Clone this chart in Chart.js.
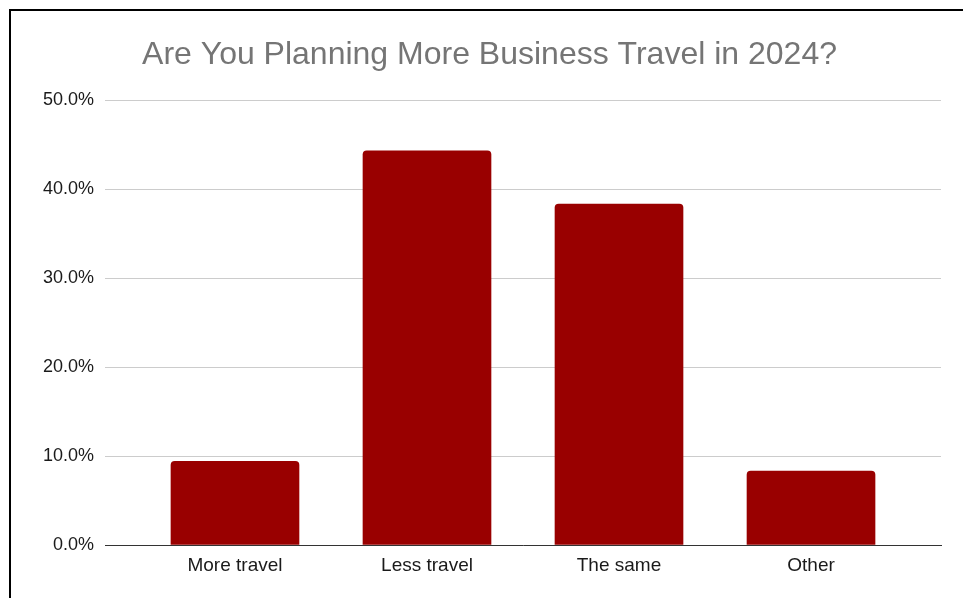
<!DOCTYPE html>
<html>
<head>
<meta charset="utf-8">
<script src="https://cdn.jsdelivr.net/npm/chart.js@4/dist/chart.umd.min.js"></script>
<style>
    body { margin: 0; background: #fff; }
    #frame {
        position: absolute; left: 9px; top: 9px; right: 0; bottom: 0;
        border-left: 2px solid #000; border-top: 2px solid #000;
    }
    #myChart { position: absolute; left: 0; top: 0; }
</style>
</head>
<body>
<div id="frame"></div>
<canvas id="myChart" width="963" height="598"></canvas>
<script>
var categories = ["More travel", "Less travel", "The same", "Other"];
var shares = [9.4, 44.3, 38.3, 8.3];
var yTicks = [0, 10, 20, 30, 40, 50];

var barChart = function () {
    var ctx = document.getElementById("myChart").getContext("2d");
    var points = shares.map(function (v, i) {
        return { x: i, y: v };
    });
    new Chart(ctx, {
        type: 'bar',
        data: {
            datasets: [{
                data: points,
                backgroundColor: "#990000",
                borderRadius: { topLeft: 4, topRight: 4 },
                borderSkipped: 'start',
                barThickness: 128
            }]
        },
        options: {
            responsive: false,
            animation: false,
            layout: { padding: { left: 38, right: 22, top: 0, bottom: 0 } },
            plugins: {
                legend: { display: false },
                tooltip: { enabled: false },
                title: {
                    display: true,
                    text: "Are You Planning More Business Travel in 2024?",
                    color: "#757575",
                    font: { family: "'Liberation Sans', Arial, sans-serif", size: 32, weight: 'normal', lineHeight: 1.2 },
                    padding: { top: 36, bottom: 25.6 }
                }
            },
            scales: {
                x: {
                    type: 'linear',
                    offset: false,
                    min: -0.677,
                    max: 3.677,
                    grid: { display: false, drawTicks: false },
                    border: { display: true, color: "#333", width: 1 },
                    afterBuildTicks: function (axis) {
                        axis.ticks = categories.map(function (c, i) {
                            return { value: i };
                        });
                    },
                    afterFit: function (axis) {
                        axis.height = 53;
                    },
                    ticks: {
                        padding: 9,
                        color: "#1a1a1a",
                        font: { family: "'Liberation Sans', Arial, sans-serif", size: 19 },
                        callback: function (v) {
                            return categories[v];
                        }
                    }
                },
                y: {
                    min: 0,
                    max: 50,
                    afterBuildTicks: function (axis) {
                        axis.ticks = yTicks.map(function (t) {
                            return { value: t };
                        });
                    },
                    afterFit: function (axis) {
                        axis.width = 67;
                    },
                    grid: { color: "#cccccc", drawTicks: false },
                    border: { display: false },
                    ticks: {
                        padding: 11,
                        color: "#1a1a1a",
                        font: { family: "'Liberation Sans', Arial, sans-serif", size: 18 },
                        callback: function (v) {
                            return v.toFixed(1) + "%";
                        }
                    }
                }
            }
        }
    });
};

window.onload = function () {
    barChart();
};
</script>
</body>
</html>
